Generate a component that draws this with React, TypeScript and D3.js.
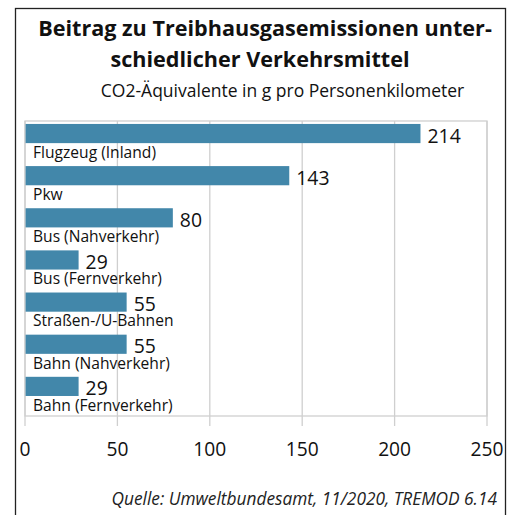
import React from "react";
import * as d3 from "d3";

const categories = [
  "Flugzeug (Inland)",
  "Pkw",
  "Bus (Nahverkehr)",
  "Bus (Fernverkehr)",
  "Straßen-/U-Bahnen",
  "Bahn (Nahverkehr)",
  "Bahn (Fernverkehr)",
];
const values = [214, 143, 80, 29, 55, 55, 29];
const xTicks = [0, 50, 100, 150, 200, 250];
const titleLines = ["Beitrag zu Treibhausgasemissionen unter-", "schiedlicher Verkehrsmittel"];
const subtitle = "CO2-Äquivalente in g pro Personenkilometer";
const source = "Quelle: Umweltbundesamt, 11/2020, TREMOD 6.14";

const W = 512;
const H = 515;
const FONT = "'Open Sans', sans-serif";

export default function App() {
  const left = 25, right = 487, top = 121, bottom = 416;
  const x = d3.scaleLinear().domain([0, 250]).range([left, right]);
  const y = d3.scaleBand<string>().domain(categories).range([top, bottom]);
  const step = y.step();
  const barColor = "#4287aa";
  const grid = "#cfcfcf";
  const titleX = [265, 260];

  return (
    <svg width={W} height={H} style={{ position: "absolute", left: 0, top: 0 }}>
      <rect x={0} y={0} width={W} height={H} fill="#fff" />
      <rect x={15.5} y={8.5} width={490} height={530} fill="none" stroke="#222" strokeWidth={1.3} />
      {titleLines.map((t, i) => (
        <text key={i} x={titleX[i]} y={36 + i * 31} textAnchor="middle" fontFamily={FONT} fontWeight={700} fontSize={21.6} fill="#111">
          {t}
        </text>
      ))}
      <text x={282.5} y={97} textAnchor="middle" fontFamily={FONT} fontSize={17.5} fill="#111">
        {subtitle}
      </text>
      {/* plot frame */}
      <rect x={left} y={top} width={right - left} height={bottom - top} fill="none" stroke={grid} strokeWidth={1.3} />
      {xTicks.map((t) => (
        <g key={t}>
          <line x1={x(t)} x2={x(t)} y1={top} y2={bottom + 10} stroke={grid} strokeWidth={1.3} />
          <text x={x(t)} y={456} textAnchor="middle" fontFamily={FONT} fontSize={19.2} fill="#111">
            {t}
          </text>
        </g>
      ))}
      {categories.map((c, i) => {
        const b = y(c)!;
        const by = b + step * 0.07;
        const bh = step * 0.455;
        return (
          <g key={c}>
            <rect x={x(0) + 0.6} y={by} width={x(values[i]) - x(0) - 0.6} height={bh} fill={barColor} />
            <text x={x(values[i]) + 7} y={by + bh - 0.5} fontFamily={FONT} fontSize={19.4} fill="#111">
              {values[i]}
            </text>
            <text x={33} y={b + step * 0.875} fontFamily={FONT} fontSize={15.6} fill="#111">
              {c}
            </text>
          </g>
        );
      })}
      <text x={497} y={505} textAnchor="end" fontFamily={FONT} fontStyle="italic" fontSize={17.3} fill="#222">
        {source}
      </text>
    </svg>
  );
}
